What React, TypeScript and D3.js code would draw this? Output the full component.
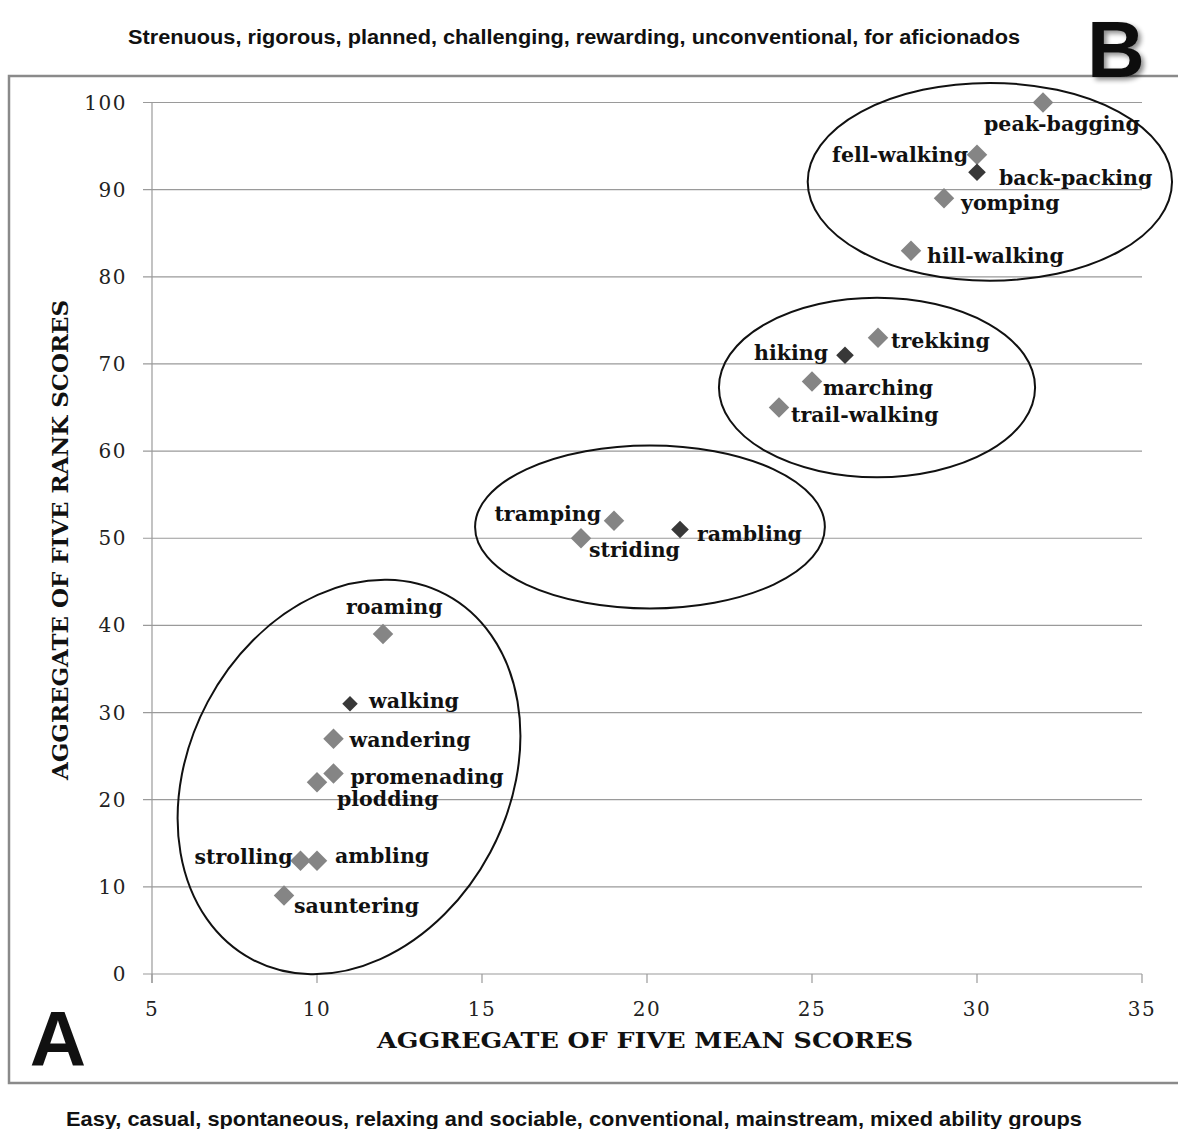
import { useMemo } from "react";
import * as d3 from "d3";

// walking terms, their aggregate mean score (x) and aggregate rank score (y)
const terms = [
  "peak-bagging", "fell-walking", "back-packing", "yomping", "hill-walking",
  "trekking", "hiking", "marching", "trail-walking",
  "tramping", "rambling", "striding",
  "roaming", "walking", "wandering", "promenading", "plodding",
  "strolling", "ambling", "sauntering",
];
const meanScores = [32, 30, 30, 29, 28, 27, 26, 25, 24, 19, 21, 18, 12, 11, 10.5, 10.5, 10, 9.5, 10, 9];
const rankScores = [100, 94, 92, 89, 83, 73, 71, 68, 65, 52, 51, 50, 39, 31, 27, 23, 22, 13, 13, 9];
// the core terms are drawn as dark diamonds
const coreTerms = ["back-packing", "hiking", "rambling", "walking"];

const xTicks = [5, 10, 15, 20, 25, 30, 35];
const yTicks = [0, 10, 20, 30, 40, 50, 60, 70, 80, 90, 100];

// groupings drawn as ellipses: centre in data units, radii in data units
const groupCx = [30.39, 26.97, 20.09, 10.97];
const groupCy = [90.9, 67.3, 51.3, 22.6];
const groupRx = [5.52, 4.79, 5.3, 4.85];
const groupRy = [11.35, 10.3, 9.35, 23.7];
const groupTilt = [0, 0, 0, 28];

// label placement relative to marker (px): dx, dy, anchor
const labelPos: [number, number, string][] = [
  [-59, 28, "start"], [-9, 7, "end"], [22, 13, "start"], [17, 12, "start"], [16, 12, "start"],
  [13, 10, "start"], [-17, 5, "end"], [11, 14, "start"], [12, 14, "start"],
  [-13, 0, "end"], [17, 11, "start"], [8, 19, "start"],
  [-37, -20, "start"], [19, 4, "start"], [16, 8, "start"], [17, 10, "start"], [20, 24, "start"],
  [-8, 3, "end"], [18, 2, "start"], [10, 17, "start"],
];

const W = 1178;
const H = 1129;
const serif = "'DejaVu Serif', 'Liberation Serif', serif";
const sans = "'Liberation Sans', Arial, sans-serif";

export default function App() {
  const x = useMemo(() => d3.scaleLinear().domain([5, 35]).range([152, 1142]), []);
  const y = useMemo(() => d3.scaleLinear().domain([0, 100]).range([974, 102.5]), []);

  const diamond = d3.symbol(d3.symbolSquare, 210)();
  const diamondDark = d3.symbol(d3.symbolSquare, 155)();
  const diamondSmall = d3.symbol(d3.symbolSquare, 120)();

  const pxPerX = x(1) - x(0);
  const pxPerY = y(0) - y(1);

  return (
    <svg
      width={W}
      height={H}
      style={{ position: "absolute", left: 0, top: 0, background: "#fff" }}
    >
      <defs>
        <filter id="shadow" x="-20%" y="-20%" width="150%" height="150%">
          <feGaussianBlur in="SourceAlpha" stdDeviation="2.5" />
          <feOffset dx="3" dy="3" result="b" />
          <feComponentTransfer>
            <feFuncA type="linear" slope="0.45" />
          </feComponentTransfer>
          <feMerge>
            <feMergeNode />
            <feMergeNode in="SourceGraphic" />
          </feMerge>
        </filter>
      </defs>

      {/* top caption */}
      <text x={574} y={44} textAnchor="middle" fontFamily={sans} fontWeight="bold" fontSize={20}
        textLength={892} lengthAdjust="spacingAndGlyphs" fill="#111">
        Strenuous, rigorous, planned, challenging, rewarding, unconventional, for aficionados
      </text>

      {/* frame */}
      <rect x={9} y={76} width={1185} height={1007} fill="none" stroke="#8a8a8a" strokeWidth={2.5} />

      <text x={1116} y={77} textAnchor="middle" fontFamily={sans} fontWeight="bold" fontSize={80} fill="#111" filter="url(#shadow)">B</text>
      <text x={58} y={1066} textAnchor="middle" fontFamily={sans} fontWeight="bold" fontSize={78} fill="#111">A</text>

      {/* gridlines */}
      {yTicks.map((t) => (
        <g key={"gy" + t}>
          <line x1={143} x2={1142} y1={y(t)} y2={y(t)} stroke="#9a9a9a" strokeWidth={1.2} />
          <text x={127} y={y(t)} dy="0.35em" textAnchor="end" fontFamily={serif} fontSize={20}
            letterSpacing={1.5} fill="#222">
            {t}
          </text>
        </g>
      ))}
      <line x1={152} x2={152} y1={y(100)} y2={983} stroke="#9a9a9a" strokeWidth={1.2} />
      {xTicks.map((t) => (
        <g key={"gx" + t}>
          <line x1={x(t)} x2={x(t)} y1={974} y2={983} stroke="#9a9a9a" strokeWidth={1.2} />
          <text x={x(t)} y={1016} textAnchor="middle" fontFamily={serif} fontSize={20}
            letterSpacing={1.5} fill="#222">
            {t}
          </text>
        </g>
      ))}

      {/* axis titles */}
      <text x={645} y={1048} textAnchor="middle" fontFamily={serif} fontWeight="bold" fontSize={23}
        textLength={536} lengthAdjust="spacingAndGlyphs" fill="#111">
        AGGREGATE OF FIVE MEAN SCORES
      </text>
      <text transform="translate(68,540) rotate(-90)" textAnchor="middle" fontFamily={serif} fontWeight="bold"
        fontSize={22} textLength={480} lengthAdjust="spacingAndGlyphs" fill="#111">
        AGGREGATE OF FIVE RANK SCORES
      </text>

      {/* group ellipses */}
      {groupCx.map((cx, i) => (
        <ellipse
          key={"e" + i}
          cx={0}
          cy={0}
          rx={groupRx[i] * pxPerX}
          ry={groupRy[i] * pxPerY}
          transform={`translate(${x(cx)},${y(groupCy[i])}) rotate(${groupTilt[i]})`}
          fill="none"
          stroke="#111"
          strokeWidth={2}
        />
      ))}

      {/* markers */}
      {terms.map((t, i) => {
        const core = coreTerms.includes(t);
        const d = t === "walking" ? diamondSmall : core ? diamondDark : diamond;
        return (
          <path
            key={"m" + t}
            d={d!}
            transform={`translate(${x(meanScores[i])},${y(rankScores[i])}) rotate(45)`}
            fill={core ? "#383838" : "#858585"}
          />
        );
      })}

      {/* labels */}
      {terms.map((t, i) => {
        const [dx, dy, anchor] = labelPos[i];
        return (
          <text
            key={"l" + t}
            x={x(meanScores[i]) + dx}
            y={y(rankScores[i]) + dy}
            textAnchor={anchor}
            fontFamily={serif}
            fontWeight="bold"
            fontSize={20.5}
            fill="#111"
          >
            {t}
          </text>
        );
      })}

      {/* bottom caption */}
      <text x={574} y={1126} textAnchor="middle" fontFamily={sans} fontWeight="bold" fontSize={21}
        textLength={1016} lengthAdjust="spacingAndGlyphs" fill="#111">
        Easy, casual, spontaneous, relaxing and sociable, conventional, mainstream, mixed ability groups
      </text>
    </svg>
  );
}
